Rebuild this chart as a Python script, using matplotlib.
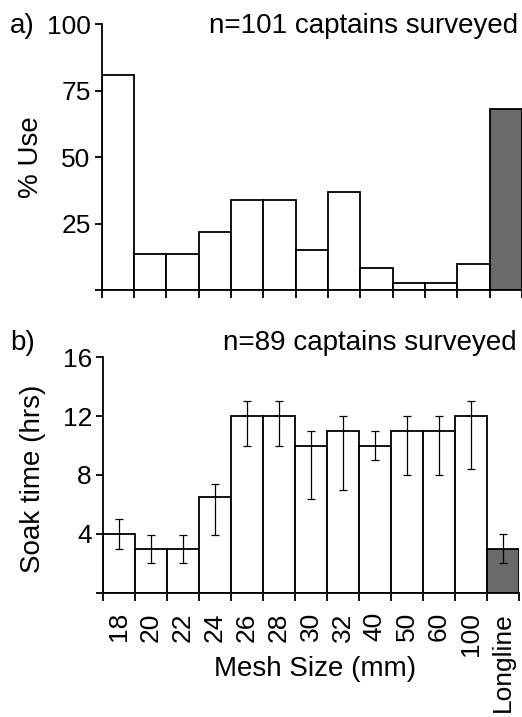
import numpy as np
import matplotlib
matplotlib.use("Agg")
import matplotlib.pyplot as plt

plt.rcParams["font.family"] = ["Liberation Sans", "DejaVu Sans"]

MESH_LABELS = ["18", "20", "22", "24", "26", "28", "30", "32",
               "40", "50", "60", "100", "Longline"]

# a) percent of captains using each gear
PCT_USE = [81, 13.5, 13.5, 21.7, 33.8, 33.8, 15.2, 36.7, 8.1, 2.5, 2.5, 9.8, 67.9]

# b) soak time (hrs) with lower / upper error bar ends
SOAK_TIME = [4, 3, 3, 6.5, 12, 12, 10, 11, 10, 11, 11, 12, 3]
SOAK_LOW = [3, 2, 2, 3.9, 10, 10, 6.4, 7, 9, 8, 8, 8.4, 2]
SOAK_HIGH = [5, 3.9, 3.9, 7.4, 13, 13, 11, 12, 11, 12, 12, 13, 4]

PCT_TICKS = [0, 25, 50, 75, 100]
SOAK_TICKS = [0, 4, 8, 12, 16]

W, H = 522, 717
GREY = "#6a6a6a"


# ---------------------------------------------------------------------------
# Helpers
# ---------------------------------------------------------------------------

def bar_colors(n):
    return ["white"] * (n - 1) + [GREY]


def style_axis(ax, yticks, ymax, show_xlabels):
    n = len(MESH_LABELS)
    x = np.arange(n)
    edges = np.arange(n + 1) - 0.5

    for side in ("top", "right"):
        ax.spines[side].set_visible(False)
    for side in ("left", "bottom"):
        ax.spines[side].set_linewidth(1.3)

    ax.set_xlim(-0.5, n - 0.5)
    ax.set_ylim(0, ymax)

    ax.set_yticks(yticks)
    ax.set_yticklabels([""] + [str(t) for t in yticks[1:]])
    ax.tick_params(axis="y", length=5, width=1.3, pad=3, labelsize=19)

    ax.set_xticks(edges)
    ax.set_xticklabels([])
    ax.tick_params(axis="x", which="major", length=6, width=1.3)
    if show_xlabels:
        ax.set_xticks(x, minor=True)
        ax.set_xticklabels(MESH_LABELS, minor=True, rotation=90, fontsize=19)
        ax.tick_params(axis="x", which="minor", length=0, pad=14)


# ---------------------------------------------------------------------------
# Main
# ---------------------------------------------------------------------------

def main():
    fig = plt.figure(figsize=(W / 100, H / 100), dpi=100)
    x = np.arange(len(MESH_LABELS))

    # panel a
    ax1 = fig.add_axes([101.7 / W, 1 - 290 / H, (522 - 101.7) / W, (290 - 24) / H])
    ax1.bar(x, PCT_USE, width=1.0, color=bar_colors(len(x)),
            edgecolor="black", linewidth=1.3)
    style_axis(ax1, PCT_TICKS, 100, show_xlabels=False)

    # panel b
    ax2 = fig.add_axes([103 / W, 1 - 592.7 / H, (518.5 - 103) / W, (592.7 - 357.3) / H])
    soak = np.array(SOAK_TIME)
    yerr = [soak - np.array(SOAK_LOW), np.array(SOAK_HIGH) - soak]
    ax2.bar(x, soak, width=1.0, color=bar_colors(len(x)),
            edgecolor="black", linewidth=1.3)
    ax2.errorbar(x, soak, yerr=yerr, fmt="none", ecolor="black",
                 elinewidth=0.9, capsize=3, capthick=0.9)
    style_axis(ax2, SOAK_TICKS, 16, show_xlabels=True)

    # axis titles placed in figure pixels
    fig.text(31 / W, 1 - 157 / H, "% Use", fontsize=20, rotation=90,
             ha="center", va="center")
    fig.text(33 / W, 1 - 479 / H, "Soak time (hrs)", fontsize=20, rotation=90,
             ha="center", va="center")
    fig.text(315 / W, 1 - 676 / H, "Mesh Size (mm)", fontsize=20,
             ha="center", va="baseline")

    fig.text(10 / W, 1 - 33 / H, "a)", fontsize=20, va="baseline")
    fig.text(10 / W, 1 - 350 / H, "b)", fontsize=20, va="baseline")
    fig.text(518 / W, 1 - 33 / H, "n=101 captains surveyed", fontsize=20,
             ha="right", va="baseline")
    fig.text(517 / W, 1 - 350 / H, "n=89 captains surveyed", fontsize=20,
             ha="right", va="baseline")

    fig.savefig("out.png", dpi=100)
    plt.close(fig)


if __name__ == "__main__":
    main()
